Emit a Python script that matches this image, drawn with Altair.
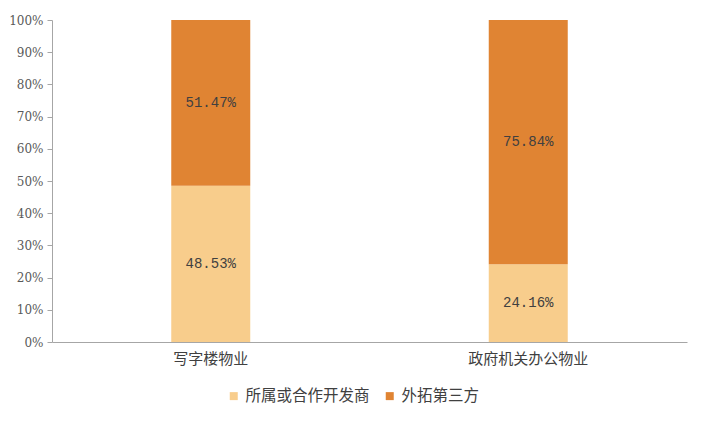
import altair as alt
import pandas as pd

categories = ["写字楼物业", "政府机关办公物业"]
series = ["所属或合作开发商", "外拓第三方"]
dev_values = [48.53, 24.16]
ext_values = [51.47, 75.84]
colors = ["#F8CD8C", "#E08433"]
y_ticks = list(range(0, 101, 10))

rows = []
for i, c in enumerate(categories):
    rows.append({"cat": c, "series": series[0], "order": 0, "value": dev_values[i]})
    rows.append({"cat": c, "series": series[1], "order": 1, "value": ext_values[i]})
df = pd.DataFrame(rows)
df["label"] = df["value"].map(lambda v: f"{v:.2f}%")

x_axis = alt.Axis(labelAngle=0, labelFont="Noto Sans CJK SC", labelFontSize=15,
                  labelColor="#404040", domainColor="#A6A6A6", ticks=False,
                  labelPadding=9)
x_scale = alt.Scale(paddingInner=0.75, paddingOuter=0.375)
y_axis = alt.Axis(values=y_ticks, labelExpr="datum.value + '%'",
                  grid=False, labelFont="DejaVu Serif", labelFontSize=12,
                  labelColor="#595959", domainColor="#A6A6A6", tickColor="#A6A6A6",
                  tickSize=5, labelPadding=4, labelOverlap=False)
y_scale = alt.Scale(domain=[0, 100], nice=False)

bars = alt.Chart(df).mark_bar(size=79).encode(
    x=alt.X("cat:N", sort=categories, title=None, scale=x_scale, axis=x_axis),
    y=alt.Y("value:Q", stack="zero", title=None, scale=y_scale, axis=y_axis),
    color=alt.Color("series:N", sort=series,
                    scale=alt.Scale(domain=series, range=colors),
                    legend=alt.Legend(title=None, orient="none", direction="horizontal",
                                      legendX=174, legendY=368, symbolType="square",
                                      symbolSize=64, labelFont="Noto Sans CJK SC",
                                      labelFontSize=15.5, labelColor="#404040",
                                      labelLimit=300, columnPadding=12,
                                      symbolStrokeWidth=0)),
    order=alt.Order("order:Q"),
)

text = alt.Chart(df).transform_stack(
    stack="value", groupby=["cat"], as_=["v0", "v1"], sort=[alt.SortField("order")]
).transform_calculate(mid="(datum.v0 + datum.v1) / 2").mark_text(
    font="Liberation Mono", fontSize=14, color="#404040"
).encode(
    x=alt.X("cat:N", sort=categories, title=None, scale=x_scale, axis=x_axis),
    y=alt.Y("mid:Q", title=None, scale=y_scale, axis=y_axis),
    text="label:N",
)

chart = (bars + text).properties(
    width=635, height=322,
    autosize=alt.AutoSizeParams(type="none"),
    padding={"left": 44, "top": 12, "right": 20, "bottom": 70},
).configure_view(stroke=None)

chart.save("out.html", embed_options={"renderer": "svg", "actions": False})
